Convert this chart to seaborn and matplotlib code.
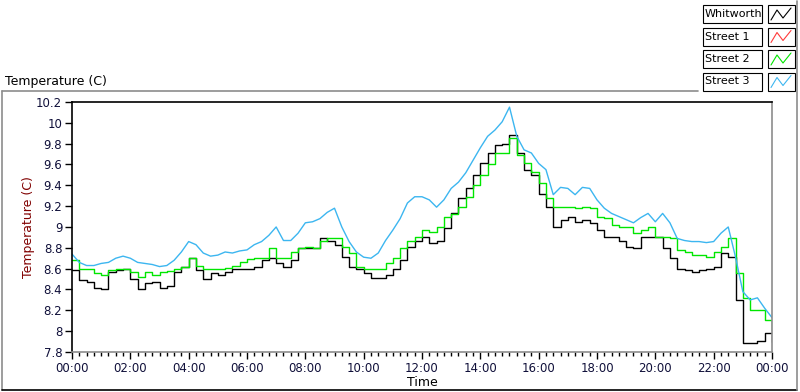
import numpy as np
import pandas as pd
import seaborn as sns
import matplotlib.pyplot as plt
from matplotlib.patches import Rectangle
from matplotlib.lines import Line2D
from matplotlib.ticker import MultipleLocator, FuncFormatter

# readings every 15 minutes, 00:00 -> 24:00
hours = [i * 0.25 for i in range(97)]

whitworth = [
    8.59, 8.49, 8.47, 8.41, 8.40, 8.57, 8.59, 8.60, 8.50, 8.40, 8.46, 8.47, 8.41, 8.43, 8.57, 8.62,
    8.70, 8.59, 8.50, 8.56, 8.54, 8.57, 8.60, 8.60, 8.60, 8.62, 8.68, 8.70, 8.65, 8.62, 8.68, 8.80,
    8.80, 8.80, 8.89, 8.87, 8.83, 8.71, 8.62, 8.60, 8.56, 8.51, 8.51, 8.54, 8.60, 8.68, 8.81, 8.87,
    8.90, 8.85, 8.87, 8.99, 9.13, 9.28, 9.37, 9.50, 9.61, 9.71, 9.79, 9.80, 9.88, 9.71, 9.55, 9.50,
    9.32, 9.19, 9.00, 9.07, 9.10, 9.05, 9.07, 9.04, 8.97, 8.90, 8.90, 8.87, 8.81, 8.80, 8.90, 8.90,
    8.90, 8.80, 8.70, 8.60, 8.59, 8.57, 8.59, 8.60, 8.62, 8.75, 8.71, 8.30, 7.89, 7.89, 7.91, 7.98,
    7.90,
]

street2 = [
    8.68, 8.60, 8.60, 8.56, 8.54, 8.59, 8.60, 8.60, 8.57, 8.52, 8.57, 8.54, 8.57, 8.58, 8.60, 8.62,
    8.70, 8.63, 8.60, 8.60, 8.60, 8.61, 8.63, 8.66, 8.69, 8.70, 8.70, 8.80, 8.70, 8.70, 8.76, 8.80,
    8.81, 8.80, 8.87, 8.89, 8.89, 8.81, 8.75, 8.62, 8.60, 8.60, 8.60, 8.65, 8.70, 8.80, 8.87, 8.90,
    8.97, 8.95, 9.00, 9.10, 9.12, 9.19, 9.29, 9.40, 9.50, 9.60, 9.71, 9.71, 9.85, 9.69, 9.61, 9.53,
    9.42, 9.28, 9.19, 9.19, 9.19, 9.18, 9.19, 9.18, 9.10, 9.09, 9.02, 9.00, 9.00, 8.94, 8.97, 9.00,
    8.90, 8.90, 8.89, 8.78, 8.76, 8.73, 8.73, 8.71, 8.76, 8.81, 8.89, 8.56, 8.32, 8.20, 8.20, 8.11,
    8.01,
]

street3 = [
    8.74, 8.66, 8.63, 8.63, 8.65, 8.66, 8.70, 8.72, 8.70, 8.66, 8.65, 8.64, 8.62, 8.63, 8.68, 8.76,
    8.86, 8.83, 8.75, 8.72, 8.73, 8.76, 8.75, 8.77, 8.78, 8.83, 8.86, 8.92, 9.00, 8.87, 8.87, 8.94,
    9.04, 9.05, 9.08, 9.14, 9.18, 9.00, 8.86, 8.76, 8.71, 8.70, 8.75, 8.87, 8.97, 9.08, 9.23, 9.29,
    9.29, 9.26, 9.19, 9.26, 9.37, 9.43, 9.52, 9.64, 9.76, 9.87, 9.93, 10.01, 10.15, 9.87, 9.74, 9.71,
    9.61, 9.55, 9.31, 9.38, 9.37, 9.31, 9.38, 9.37, 9.26, 9.18, 9.13, 9.10, 9.07, 9.04, 9.09, 9.13,
    9.05, 9.13, 9.04, 8.89, 8.87, 8.86, 8.86, 8.85, 8.86, 8.94, 9.00, 8.71, 8.38, 8.30, 8.32, 8.22,
    8.13,
]

legend_names = ['Whitworth', 'Street 1', 'Street 2', 'Street 3']
legend_colors = ['#000000', '#ff3a3a', '#00e600', '#3cb6f0']

df = pd.DataFrame({'hour': hours, 'Whitworth': whitworth, 'Street 2': street2, 'Street 3': street3})

sns.set_style('white')
plt.rcParams['font.family'] = ['DejaVu Sans']

fig = plt.figure(figsize=(8, 3.92), dpi=100)
ax = fig.add_axes([0.09, 0.102, 0.875, 0.638])

# plots in LabVIEW order, later ones on top
sns.lineplot(data=df, x='hour', y='Whitworth', color=legend_colors[0], lw=1, drawstyle='steps-post', ax=ax)
sns.lineplot(data=df, x='hour', y='Street 2', color=legend_colors[2], lw=1, drawstyle='steps-post', ax=ax)
sns.lineplot(data=df, x='hour', y='Street 3', color=legend_colors[3], lw=1, ax=ax)

ax.set_xlim(0, 24)
ax.set_ylim(7.8, 10.2)
ax.xaxis.set_major_locator(MultipleLocator(2))
ax.xaxis.set_minor_locator(MultipleLocator(0.25))
ax.yaxis.set_major_locator(MultipleLocator(0.2))
ax.xaxis.set_major_formatter(FuncFormatter(lambda v, p: '%02d:00' % (int(round(v)) % 24)))
ax.yaxis.set_major_formatter(FuncFormatter(lambda v, p: ('%.1f' % v).rstrip('0').rstrip('.')))

tick_col = '#10103a'
ax.tick_params(axis='both', which='major', direction='out', length=5, width=1, color='black',
               labelsize=8.5, labelcolor=tick_col, pad=2)
ax.tick_params(axis='x', which='minor', direction='out', length=3, width=1, color='black')
ax.tick_params(bottom=True, left=True, which='both')
ax.tick_params(axis='y', which='minor', left=False)

for side in ['left', 'top']:
    ax.spines[side].set_color('black')
    ax.spines[side].set_linewidth(1.2)
for side in ['right', 'bottom']:
    ax.spines[side].set_color('#8c8c8c')
    ax.spines[side].set_linewidth(1.2)

ax.set_xlabel('Time', fontsize=9, color='black', labelpad=1)
ax.set_ylabel('Temperature (C)', fontsize=9, color='#800000', labelpad=1)

# outer chart frame and caption
fig.add_artist(Line2D([2/800, 698/800], [1 - 91/392, 1 - 91/392], color='#8c8c8c', lw=1.2))
fig.add_artist(Line2D([2/800, 2/800], [1 - 91/392, 1 - 390/392], color='#8c8c8c', lw=1.2))
fig.add_artist(Line2D([2/800, 797/800], [1 - 390/392, 1 - 390/392], color='black', lw=1.2))
fig.add_artist(Line2D([797/800, 797/800], [1 - 1/392, 1 - 390/392], color='#8c8c8c', lw=1.2))
fig.text(5/800, 1 - 82/392, 'Temperature (C)', fontsize=9, color='black', va='center', ha='left')

# plot legend in the top-right corner
for i, (name, col) in enumerate(zip(legend_names, legend_colors)):
    top = 5 + i * 22.5
    fig.add_artist(Rectangle((703/800, 1 - (top + 18)/392), 59/800, 18/392,
                             fill=False, edgecolor='black', lw=0.8))
    fig.text(705/800, 1 - (top + 9)/392, name, fontsize=8, color='black', va='center', ha='left')
    fig.add_artist(Rectangle((768/800, 1 - (top + 18)/392), 27/800, 18/392,
                             fill=False, edgecolor='black', lw=0.8))
    zx = np.array([771, 777, 783, 791]) / 800
    zy = 1 - (top + np.array([15, 5, 13, 3])) / 392
    fig.add_artist(Line2D(zx, zy, color=col, lw=0.8))

plt.savefig('out.png', dpi=100)
